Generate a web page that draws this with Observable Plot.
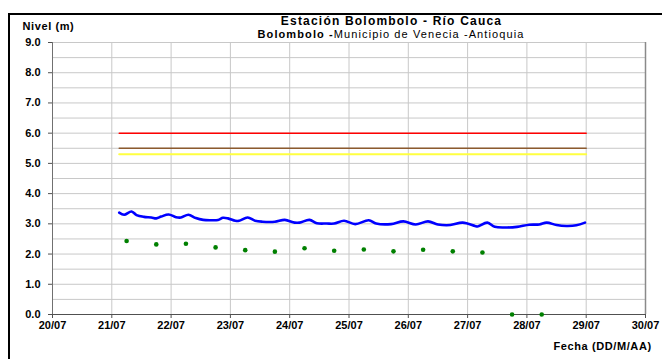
<!DOCTYPE html>
<html><head><meta charset="utf-8">
<script src="https://cdn.jsdelivr.net/npm/d3@7"></script>
<script src="https://cdn.jsdelivr.net/npm/@observablehq/plot@0.6"></script>
<style>
html,body{margin:0;padding:0;background:#fff;overflow:hidden}
#chart{position:relative;width:662px;height:359px;overflow:hidden}
#frame{position:absolute;left:8px;top:13px;width:700px;height:400px;border-top:2px solid #000;border-left:2px solid #000;pointer-events:none}
svg{font-family:"Liberation Sans",Arial,sans-serif}
</style></head><body><div id="chart"></div>
<script>
// Nivel (m) series — date "DD/MM HH:MM"
const levelTimes = ["21/07 03:00","21/07 05:00","21/07 08:00","21/07 10:00","21/07 13:00","21/07 16:00","21/07 18:00","21/07 20:00","21/07 23:00",
 "22/07 02:00","22/07 04:00","22/07 07:00","22/07 10:00","22/07 13:00","22/07 16:00","22/07 19:00","22/07 21:00","22/07 23:00",
 "23/07 02:00","23/07 03:30","23/07 07:00","23/07 10:00","23/07 13:00","23/07 18:00","23/07 22:00",
 "24/07 02:00","24/07 04:00","24/07 08:00","24/07 11:00","24/07 15:00","24/07 18:00","24/07 22:00",
 "25/07 02:30","25/07 08:00","25/07 11:00","25/07 17:00","25/07 22:00",
 "26/07 03:00","26/07 08:00","26/07 12:00","26/07 17:00","26/07 22:00",
 "27/07 03:00","27/07 04:00","27/07 08:00","27/07 11:00","27/07 16:00","27/07 20:00",
 "28/07 01:00","28/07 05:00","28/07 08:00","28/07 12:00","28/07 16:00","28/07 20:00","28/07 23:30"];
const levelValues = [3.37,3.30,3.41,3.29,3.23,3.21,3.18,3.24,3.31,
 3.22,3.21,3.30,3.19,3.13,3.12,3.13,3.20,3.18,
 3.10,3.10,3.21,3.10,3.07,3.07,3.13,
 3.04,3.04,3.13,3.02,3.01,3.01,3.10,
 2.99,3.12,3.01,2.99,3.08,
 2.98,3.08,2.98,2.96,3.04,
 2.93,2.91,3.04,2.90,2.88,2.90,
 2.97,2.98,3.04,2.96,2.93,2.95,3.04];
// Green point readings
const sampleTimes = ["21/07 06:00","21/07 18:00","22/07 06:00","22/07 18:00","23/07 06:00","23/07 18:00","24/07 06:00","24/07 18:00",
 "25/07 06:00","25/07 18:00","26/07 06:00","26/07 18:00","27/07 06:00","27/07 18:00","28/07 06:00"];
const sampleValues = [2.43,2.32,2.34,2.22,2.13,2.08,2.19,2.11,2.15,2.09,2.14,2.09,2.05,0.0,0.0];
// Threshold levels
const thresholdNames = ["Roja","Naranja","Amarilla"];
const thresholdValues = [6.0,5.5,5.3];
const thresholdColors = ["#ff0000","#8c5a2e","#ffff40"];
const thresholdWidths = [1.5,1.5,2];
const thresholdSpan = ["21/07 03:00","29/07 00:00"];
// Axis ticks
const dayTicks = ["20/07","21/07","22/07","23/07","24/07","25/07","26/07","27/07","28/07","29/07","30/07"];
const yTicks = [0,1,2,3,4,5,6,7,8,9];
const yGrid = [0,0.5,1,1.5,2,2.5,3,3.5,4,4.5,5,5.5,6,6.5,7,7.5,8,8.5,9];

const parse = s => {
  const [d, t] = s.split(" ");
  const [dd, mm] = d.split("/").map(Number);
  const [hh, mi] = (t || "00:00").split(":").map(Number);
  return new Date(Date.UTC(2023, mm - 1, dd, hh, mi));
};
const level = levelTimes.map((t, i) => ({date: parse(t), value: levelValues[i]}));
const samples = sampleTimes.map((t, i) => ({date: parse(t), value: sampleValues[i]}));
const thresholds = thresholdNames.flatMap((n, i) => thresholdSpan.map(t => ({name: n, date: parse(t), value: thresholdValues[i]})));
const days = dayTicks.map(parse);
const x0 = days[0], x1 = days[days.length - 1];

const bold = {fontWeight: "bold", fontSize: 11, fill: "#000"};
const chart = Plot.plot({
  width: 662, height: 359,
  marginLeft: 52, marginRight: 17, marginTop: 42, marginBottom: 45,
  style: {fontFamily: '"Liberation Sans", Arial, sans-serif', background: "#fff"},
  x: {type: "utc", domain: [x0, x1]},
  y: {domain: [0, 9]},
  marks: [
    Plot.gridY(yGrid, {stroke: "#c8c8c8", strokeOpacity: 1, strokeWidth: 1}),
    Plot.gridX(days, {stroke: "#c8c8c8", strokeOpacity: 1, strokeWidth: 1}),
    Plot.ruleX([x1], {stroke: "#8a8a8a", strokeWidth: 1.5}),
    Plot.ruleX([x0], {stroke: "#707070", strokeWidth: 1}),
    Plot.ruleY([0], {stroke: "#505050", strokeWidth: 1}),
    Plot.axisY(yTicks, {tickFormat: d => d.toFixed(1), tickSize: 4, tickPadding: 8, stroke: "#505050", ...bold, label: null}),
    Plot.axisX(days, {tickFormat: d3.utcFormat("%d/%m"), tickSize: 4, tickPadding: 3, stroke: "#505050", ...bold, label: null}),
    ...thresholdNames.map((n, i) => Plot.line(thresholds.filter(d => d.name === n), {x: "date", y: "value", stroke: thresholdColors[i], strokeWidth: thresholdWidths[i]})),
    Plot.line(level, {x: "date", y: "value", stroke: "#0000ff", strokeWidth: 2.6, curve: "catmull-rom"}),
    Plot.dot(samples, {x: "date", y: "value", r: 2.3, fill: "#008000", stroke: "none"}),
    Plot.text(["Nivel (m)"], {frameAnchor: "top-left", dx: -30, dy: -20, textAnchor: "start", ...bold, className: "wide"}),
    Plot.text(["Estación Bolombolo - Río Cauca"], {frameAnchor: "top-left", dx: 339, dy: -26, textAnchor: "middle", fontWeight: "bold", fontSize: 12, fill: "#000", className: "title"}),
    Plot.text(["Fecha (DD/M/AA)"], {frameAnchor: "bottom-left", dx: 501, dy: 35, textAnchor: "start", ...bold, className: "wide"})
  ]
});
// subtitle with mixed weights
const svg = d3.select(chart);
const sub = svg.append("text").attr("x", 391).attr("y", 38).attr("text-anchor", "middle")
  .attr("font-size", 11).attr("fill", "#000").style("letter-spacing", "1.1px");
sub.append("tspan").attr("font-weight", "bold").text("Bolombolo -");
sub.append("tspan").text("Municipio de Venecia -Antioquia");
svg.selectAll(".title text").style("letter-spacing", "1.2px");
svg.selectAll(".wide text").style("letter-spacing", "0.6px");
const root = document.getElementById("chart");
root.appendChild(chart);
const f = document.createElement("div"); f.id = "frame"; root.appendChild(f);
</script></body></html>
